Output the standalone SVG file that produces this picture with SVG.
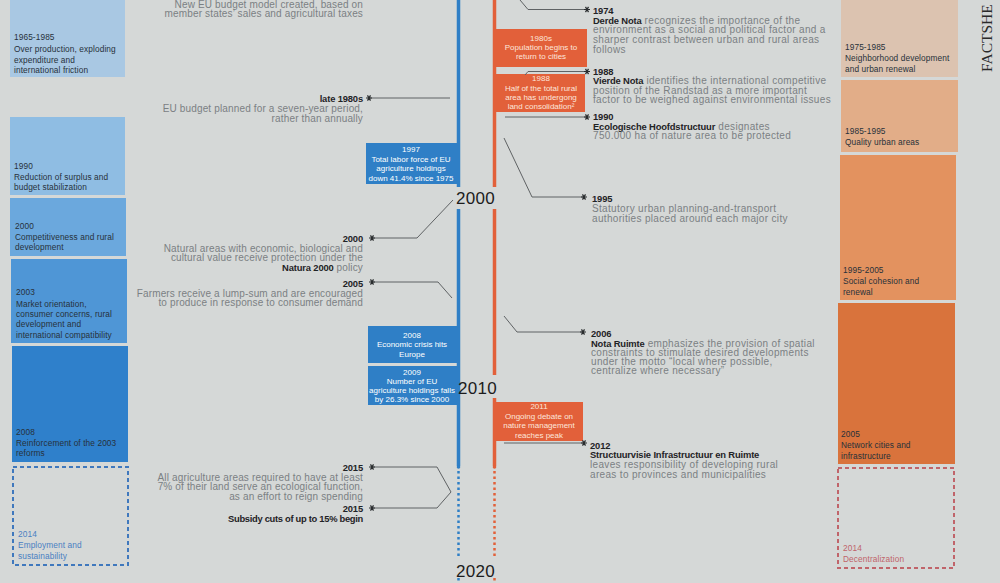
<svg xmlns="http://www.w3.org/2000/svg" width="1000" height="583" viewBox="0 0 1000 583">
<defs>
<style>
text{font-family:"Liberation Sans",Arial,sans-serif}
.g{font-size:10px;fill:#7b8083;letter-spacing:.15px}
.gr{font-size:10px;fill:#7b8083;letter-spacing:.33px}
.k{font-weight:bold;fill:#1f2326;font-size:9.4px;letter-spacing:-.15px}
.e{text-anchor:end}
.w{font-size:8px;fill:#ffffff;text-anchor:middle;letter-spacing:0}
.wr{fill:#fde6db}
.c{font-size:8.3px;fill:#27313a;letter-spacing:.1px}
.cb{font-size:8.3px;fill:#4a80c2;letter-spacing:.1px}
.cr{font-size:8.3px;fill:#c0646a;letter-spacing:.1px}
.yr{font-size:17px;fill:#1c1c1c;letter-spacing:.3px}
.cn{fill:none;stroke:#5f6264;stroke-width:1}
.bl{stroke:#2f7fc6;stroke-width:3.5;fill:none}
.rl{stroke:#e2603a;stroke-width:3.5;fill:none}
</style>
<marker id="st" viewBox="-4 -4 8 8" markerWidth="8" markerHeight="8" markerUnits="userSpaceOnUse" orient="0"><path d="M-3,0H3M-1.5,-2.6L1.5,2.6M-1.5,2.6L1.5,-2.6" stroke="#2a2d2f" stroke-width="1.2"/></marker>
</defs>
<rect x="0" y="0" width="1000" height="583" fill="#d5d8d7"/>

<!-- left column -->
<g id="eu-1965">
<rect x="10" y="0" width="115" height="77" fill="#a9c8e3"/>
<text class="c" x="14" y="40">1965-1985</text>
<text class="c" x="14" y="52">Over production, exploding</text>
<text class="c" x="14" y="63">expenditure and</text>
<text class="c" x="14" y="73">international friction</text>
</g>
<g id="eu-1990">
<rect x="10" y="117" width="115" height="78" fill="#8fbde3"/>
<text class="c" x="14" y="169">1990</text>
<text class="c" x="14" y="180">Reduction of surplus and</text>
<text class="c" x="14" y="190">budget stabilization</text>
</g>
<g id="eu-2000">
<rect x="10" y="198" width="116" height="58" fill="#6ba8dd"/>
<text class="c" x="15" y="229">2000</text>
<text class="c" x="15" y="240">Competitiveness and rural</text>
<text class="c" x="15" y="250">development</text>
</g>
<g id="eu-2003">
<rect x="11" y="259" width="116" height="84" fill="#4f96d6"/>
<text class="c" x="16" y="295">2003</text>
<text class="c" x="16" y="307">Market orientation,</text>
<text class="c" x="16" y="317">consumer concerns, rural</text>
<text class="c" x="16" y="327">development and</text>
<text class="c" x="16" y="338">international compatibility</text>
</g>
<g id="eu-2008">
<rect x="12" y="346" width="116" height="116" fill="#2f80cb"/>
<text class="c" x="16" y="435">2008</text>
<text class="c" x="16" y="446">Reinforcement of the 2003</text>
<text class="c" x="16" y="456">reforms</text>
</g>
<g id="eu-2014">
<rect x="13" y="467" width="115" height="98" fill="none" stroke="#3f78bd" stroke-width="2" stroke-dasharray="4 3"/>
<text class="cb" x="18" y="537">2014</text>
<text class="cb" x="18" y="548">Employment and</text>
<text class="cb" x="18" y="559">sustainability</text>
</g>

<!-- right column -->
<g id="nl-1975">
<rect x="841" y="0" width="117" height="77" fill="#dcc3b0"/>
<text class="c" x="845" y="50">1975-1985</text>
<text class="c" x="845" y="61">Neighborhood development</text>
<text class="c" x="845" y="72">and urban renewal</text>
</g>
<g id="nl-1985">
<rect x="841" y="80" width="117" height="72" fill="#e2ad88"/>
<text class="c" x="845" y="134">1985-1995</text>
<text class="c" x="845" y="145">Quality urban areas</text>
</g>
<g id="nl-1995">
<rect x="840" y="155" width="116" height="145" fill="#e3925f"/>
<text class="c" x="843" y="273">1995-2005</text>
<text class="c" x="843" y="284">Social cohesion and</text>
<text class="c" x="843" y="295">renewal</text>
</g>
<g id="nl-2005">
<rect x="838" y="303" width="117" height="161" fill="#d9733c"/>
<text class="c" x="841" y="437">2005</text>
<text class="c" x="841" y="448">Network cities and</text>
<text class="c" x="841" y="459">infrastructure</text>
</g>
<g id="nl-2014">
<rect x="838" y="468" width="116" height="100" fill="none" stroke="#c0646a" stroke-width="2" stroke-dasharray="4 3"/>
<text class="cr" x="843" y="551">2014</text>
<text class="cr" x="843" y="562">Decentralization</text>
</g>
<text id="factsheet" transform="translate(992,72) rotate(-90)" style="font-family:'Liberation Serif',serif;font-size:15.5px;fill:#2a2a2a">FACTSHE</text>

<!-- timelines -->
<g id="timelines">
<path class="bl" d="M458.5,0V187M458.5,209V466"/>
<path class="rl" d="M494.5,0V187M494.5,209V375M494.5,398V466"/>
<path d="M458.5,471V558M458.5,578V583" stroke="#2f7fc6" stroke-width="2.5" stroke-dasharray="2.5 3"/>
<path d="M494.5,471V558M494.5,578V583" stroke="#e2603a" stroke-width="2.5" stroke-dasharray="2.5 3"/>
<circle cx="458.5" cy="467" r="1.8" fill="#2f7fc6"/>
<circle cx="494.5" cy="467" r="1.8" fill="#e2603a"/>
</g>
<g id="years">
<text class="yr" x="456" y="204">2000</text>
<text class="yr" x="458" y="394">2010</text>
<text class="yr" x="456" y="577">2020</text>
</g>

<!-- centre boxes -->
<g id="b-1997">
<rect x="366" y="143" width="92" height="41" fill="#2f7fc6"/>
<text class="w" x="411" y="152">1997</text>
<text class="w" x="411" y="162">Total labor force of EU</text>
<text class="w" x="411" y="171">agriculture holdings</text>
<text class="w" x="411" y="181">down 41.4% since 1975</text>
</g>
<g id="b-2008">
<rect x="368" y="326" width="89" height="37" fill="#2f7fc6"/>
<text class="w" x="412" y="338">2008</text>
<text class="w" x="412" y="347">Economic crisis hits</text>
<text class="w" x="412" y="357">Europe</text>
</g>
<g id="b-2009">
<rect x="368" y="366" width="89" height="39" fill="#2f7fc6"/>
<text class="w" x="412" y="375">2009</text>
<text class="w" x="412" y="384">Number of EU</text>
<text class="w" x="412" y="393">agriculture holdings falls</text>
<text class="w" x="412" y="402">by 26.3% since 2000</text>
</g>
<g id="b-1980s">
<rect x="495" y="29" width="92" height="38" fill="#e2603a"/>
<text class="w wr" x="541" y="41">1980s</text>
<text class="w wr" x="541" y="50">Population begins to</text>
<text class="w wr" x="541" y="59">return to cities</text>
</g>
<g id="b-1988">
<rect x="495" y="74" width="90" height="38" fill="#e2603a"/>
<text class="w wr" x="541" y="81">1988</text>
<text class="w wr" x="541" y="91">Half of the total rural</text>
<text class="w wr" x="541" y="100">area has undergong</text>
<text class="w wr" x="541" y="109">land consolidation²</text>
</g>
<g id="b-2011">
<rect x="495" y="402" width="88" height="39" fill="#e2603a"/>
<text class="w wr" x="539" y="409">2011</text>
<text class="w wr" x="539" y="419">Ongoing debate on</text>
<text class="w wr" x="539" y="428">nature management</text>
<text class="w wr" x="539" y="438">reaches peak</text>
</g>

<!-- connectors -->
<g id="connectors">
<polyline class="cn" points="369,98 450,98" marker-start="url(#st)"/>
<polyline class="cn" points="372,238 417,238 453,200" marker-start="url(#st)"/>
<polyline class="cn" points="372,282 438,282 452,298" marker-start="url(#st)"/>
<polyline class="cn" points="372,467 437,467 451,492 437,508 372,508" marker-start="url(#st)" marker-end="url(#st)"/>
<polyline class="cn" points="520,0 528,9.5 587,9.5" marker-end="url(#st)"/>
<polyline class="cn" points="525,75 528,71.5 587,71.5" marker-end="url(#st)"/>
<polyline class="cn" points="505,117 587,117" marker-end="url(#st)"/>
<polyline class="cn" points="504,138 532,197 584,197" marker-end="url(#st)"/>
<polyline class="cn" points="504,316 517,332 583,332" marker-end="url(#st)"/>
<polyline class="cn" points="504,443 584,443" marker-end="url(#st)"/>
</g>

<!-- left events -->
<g id="ev-budget">
<text class="g e" x="363" y="8">New EU budget model created, based on</text>
<text class="g e" x="363" y="17">member states’ sales and agricultural taxes</text>
</g>
<g id="ev-late1980s">
<text class="k e" x="363" y="102">late 1980s</text>
<text class="g e" x="363" y="112">EU budget planned for a seven-year period,</text>
<text class="g e" x="363" y="122">rather than annually</text>
</g>
<g id="ev-2000">
<text class="k e" x="363" y="242">2000</text>
<text class="g e" x="363" y="252">Natural areas with economic, biological and</text>
<text class="g e" x="363" y="261">cultural value receive protection under the</text>
<text class="g e" x="363" y="271"><tspan class="k">Natura 2000</tspan> policy</text>
</g>
<g id="ev-2005">
<text class="k e" x="363" y="287">2005</text>
<text class="g e" x="363" y="297">Farmers receive a lump-sum and are encouraged</text>
<text class="g e" x="363" y="306">to produce in response to consumer demand</text>
</g>
<g id="ev-2015a">
<text class="k e" x="363" y="471">2015</text>
<text class="g e" x="363" y="481">All agriculture areas required to have at least</text>
<text class="g e" x="363" y="490">7% of their land serve an ecological function,</text>
<text class="g e" x="363" y="500">as an effort to reign spending</text>
</g>
<g id="ev-2015b">
<text class="k e" x="363" y="512">2015</text>
<text class="k e" x="363" y="522" style="letter-spacing:-.3px">Subsidy cuts of up to 15% begin</text>
</g>

<!-- right events -->
<g id="ev-1974">
<text class="k" x="593" y="14">1974</text>
<text class="gr" x="593" y="24"><tspan class="k">Derde Nota</tspan> recognizes the importance of the</text>
<text class="gr" x="593" y="33">environment as a social and political factor and a</text>
<text class="gr" x="593" y="43">sharper contrast between urban and rural areas</text>
<text class="gr" x="593" y="53">follows</text>
</g>
<g id="ev-1988">
<text class="k" x="593" y="75">1988</text>
<text class="gr" x="593" y="84"><tspan class="k">Vierde Nota</tspan> identifies the international competitive</text>
<text class="gr" x="593" y="94">position of the Randstad as a more important</text>
<text class="gr" x="593" y="103">factor to be weighed against environmental issues</text>
</g>
<g id="ev-1990">
<text class="k" x="593" y="120">1990</text>
<text class="gr" x="593" y="130"><tspan class="k">Ecologische Hoofdstructuur</tspan> designates</text>
<text class="gr" x="593" y="139">750.000 ha of nature area to be protected</text>
</g>
<g id="ev-1995">
<text class="k" x="592" y="202">1995</text>
<text class="gr" x="592" y="212">Statutory urban planning-and-transport</text>
<text class="gr" x="592" y="222">authorities placed around each major city</text>
</g>
<g id="ev-2006">
<text class="k" x="591" y="337">2006</text>
<text class="gr" x="591" y="347"><tspan class="k">Nota Ruimte</tspan> emphasizes the provision of spatial</text>
<text class="gr" x="591" y="356">constraints to stimulate desired developments</text>
<text class="gr" x="591" y="365">under the motto “local where possible,</text>
<text class="gr" x="591" y="374">centralize where necessary”</text>
</g>
<g id="ev-2012">
<text class="k" x="590" y="449">2012</text>
<text class="k" x="590" y="458">Structuurvisie Infrastructuur en Ruimte</text>
<text class="gr" x="590" y="468">leaves responsibility of developing rural</text>
<text class="gr" x="590" y="478">areas to provinces and municipalities</text>
</g>
</svg>
